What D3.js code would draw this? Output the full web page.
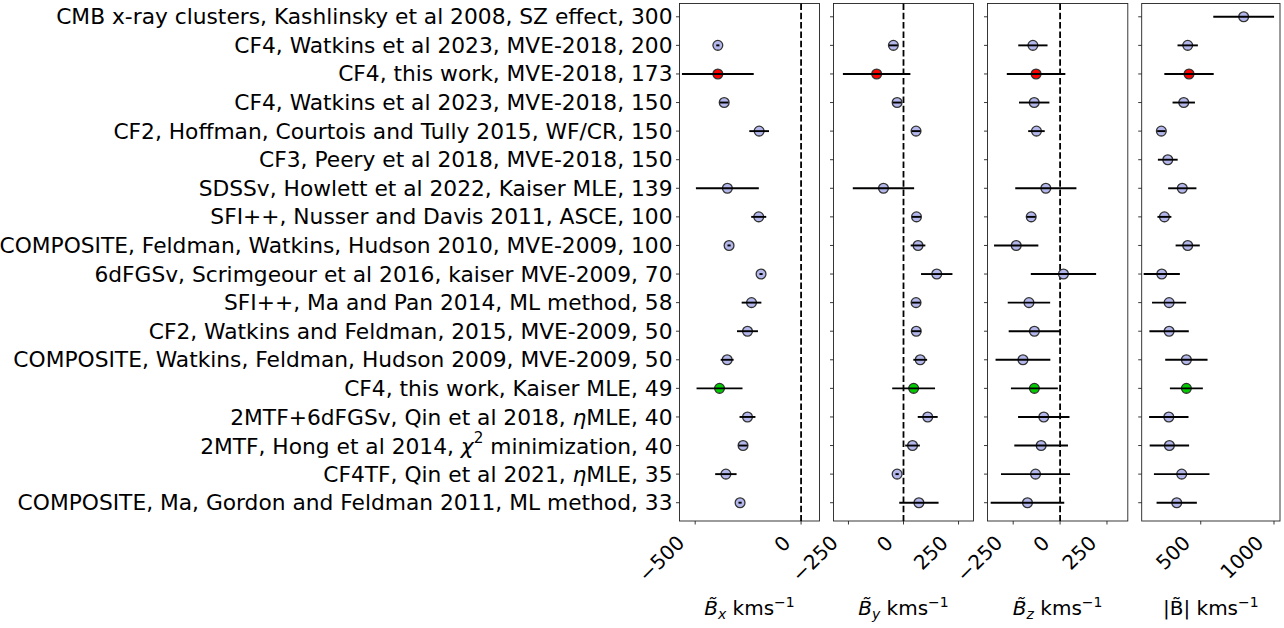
<!DOCTYPE html>
<html><head><meta charset="utf-8">
<script src="https://cdn.jsdelivr.net/npm/d3@7"></script>
<style>body{margin:0;background:#fff}svg{display:block}text{font-family:"DejaVu Sans",sans-serif}</style>
</head><body>
<svg id="chart" width="1284" height="628"></svg>
<script>
// ---- data ----
const labels = [
  "CMB x-ray clusters, Kashlinsky et al 2008, SZ effect, 300",
  "CF4, Watkins et al 2023, MVE-2018, 200",
  "CF4, this work, MVE-2018, 173",
  "CF4, Watkins et al 2023, MVE-2018, 150",
  "CF2, Hoffman, Courtois and Tully 2015, WF/CR, 150",
  "CF3, Peery et al 2018, MVE-2018, 150",
  "SDSSv, Howlett et al 2022, Kaiser MLE, 139",
  "SFI++, Nusser and Davis 2011, ASCE, 100",
  "COMPOSITE, Feldman, Watkins, Hudson 2010, MVE-2009, 100",
  "6dFGSv, Scrimgeour et al 2016, kaiser MVE-2009, 70",
  "SFI++, Ma and Pan 2014, ML method, 58",
  "CF2, Watkins and Feldman, 2015, MVE-2009, 50",
  "COMPOSITE, Watkins, Feldman, Hudson 2009, MVE-2009, 50",
  "CF4, this work, Kaiser MLE, 49",
  "2MTF+6dFGSv, Qin et al 2018, \u03b7MLE, 40",
  "2MTF, Hong et al 2014, \u03c7\u00b2 minimization, 40",
  "CF4TF, Qin et al 2021, \u03b7MLE, 35",
  "COMPOSITE, Ma, Gordon and Feldman 2011, ML method, 33"
];
const bx    = [null,-393,-393,-363,-198,null,-348,-200,-340,-189,-234,-253,-349,-385,-253,-274,-355,-288];
const bxErr = [null,3,165,16,42,null,144,31,3,3,42,45,26,104,33,17,46,3];
const by    = [null,-46,-122,-29,57,null,-91,59,66,151,57,58,76,46,110,41,-29,70];
const byErr = [null,16,149,16,16,null,135,16,29,67,16,17,27,93,41,29,3,85];
const bz    = [null,-145,-128,-138,-126,null,-76,-154,-234,18,-166,-137,-198,-137,-87,-101,-131,-174];
const bzErr = [null,73,151,76,39,null,158,19,113,169,108,132,141,120,132,138,179,191];
const bmag    = [793,411,420,384,231,275,374,252,411,234,284,284,402,402,282,286,370,336];
const bmagErr = [201,63,162,70,22,61,90,41,76,117,110,128,138,106,128,128,183,131];
const highlight = {2:"#ff0000", 13:"#00cc00"};
const ticksBx = [-500,0], ticksBy = [-250,0,250], ticksBz = [-250,0,250], ticksB = [500,1000];

// ---- layout ----
const svg = d3.select("#chart");
const pTop = 3.5, pBottom = 521;
const y = d3.scaleLinear().domain([-0.465, 17.64]).range([pTop, pBottom]);
const panels = [
  {vals:bx, errs:bxErr, dom:[-574,87], rng:[679.5,819.5], ticks:ticksBx, zero:true, label:"x"},
  {vals:by, errs:byErr, dom:[-318,318], rng:[833.5,973.5], ticks:ticksBy, zero:true, label:"y"},
  {vals:bz, errs:bzErr, dom:[-387,361], rng:[987.5,1127.8], ticks:ticksBz, zero:true, label:"z"},
  {vals:bmag, errs:bmagErr, dom:[97,1041], rng:[1141.7,1280], ticks:ticksB, zero:false, label:null}
];
const fmt = d => (d<0 ? "\u2212"+Math.abs(d) : ""+d);
const FS = 20, LFS = 21.75;

panels.forEach((p,pi) => {
  const x = d3.scaleLinear().domain(p.dom).range(p.rng);
  const g = svg.append("g");
  g.append("rect").attr("x",p.rng[0]).attr("y",pTop).attr("width",p.rng[1]-p.rng[0]).attr("height",pBottom-pTop)
    .attr("fill","none").attr("stroke","#222").attr("stroke-width",0.9);
  g.selectAll("line.yt").data(labels).join("line").attr("class","yt")
    .attr("x1",p.rng[0]-3.5).attr("x2",p.rng[0]).attr("y1",(d,i)=>y(i)).attr("y2",(d,i)=>y(i))
    .attr("stroke","#222").attr("stroke-width",0.9);
  g.selectAll("line.xt").data(p.ticks).join("line").attr("class","xt")
    .attr("x1",d=>x(d)).attr("x2",d=>x(d)).attr("y1",pBottom).attr("y2",pBottom+3.5)
    .attr("stroke","#222").attr("stroke-width",0.9);
  const H = 1.164*FS;
  g.selectAll("text.xtl").data(p.ticks).join("text").attr("class","xtl")
    .attr("transform",d=>`translate(${x(d)-6},${pBottom+10+0.707*H}) rotate(-45)`)
    .attr("text-anchor","end").attr("dy","-0.236em").attr("font-size",FS).attr("fill","#000")
    .text(fmt);
  if (p.zero) {
    g.append("line").attr("x1",x(0)).attr("x2",x(0)).attr("y1",pTop).attr("y2",pBottom)
      .attr("stroke","#000").attr("stroke-width",1.8).attr("stroke-dasharray","6.5,2.8");
  }
  const pts = p.vals.map((v,i)=>({v, e:p.errs[i], i})).filter(d=>d.v!==null);
  g.selectAll("circle").data(pts).join("circle")
    .attr("cx",d=>x(d.v)).attr("cy",d=>y(d.i)).attr("r",4.9)
    .attr("fill",d=>highlight[d.i]||"#b3b7ec").attr("stroke","#333").attr("stroke-width",1.3);
  g.selectAll("line.err").data(pts).join("line").attr("class","err")
    .attr("x1",d=>x(d.v-d.e)).attr("x2",d=>x(d.v+d.e)).attr("y1",d=>y(d.i)).attr("y2",d=>y(d.i))
    .attr("stroke","#000").attr("stroke-width",1.9).attr("stroke-linecap","square");
  const cx = (p.rng[0]+p.rng[1])/2;
  const t = svg.append("text").attr("x",cx).attr("y",615).attr("text-anchor","middle").attr("font-size",FS);
  if (p.label) {
    t.append("tspan").attr("font-style","italic").text("B\u0303");
    t.append("tspan").attr("font-style","italic").attr("font-size",FS*0.7).attr("dy",4).text(p.label);
    t.append("tspan").attr("dy",-4).text(" kms");
  } else {
    t.append("tspan").text("|B\u0303| kms");
  }
  t.append("tspan").attr("font-size",FS*0.7).attr("dy",-8).text("\u22121");
});

const lab = svg.append("g");
labels.forEach((s,i) => {
  const t = lab.append("text").attr("x",672.5).attr("y",y(i)).attr("text-anchor","end")
    .attr("dominant-baseline","central").attr("font-size",LFS).attr("fill","#000");
  const m = s.match(/^(.*?)([\u03b7\u03c7])(\u00b2?)(.*)$/);
  if (m) {
    t.append("tspan").text(m[1]);
    t.append("tspan").attr("font-style","italic").text(m[2]);
    if (m[3]) { t.append("tspan").attr("font-size",LFS*0.7).attr("dy",-8).text("2"); t.append("tspan").attr("dy",8).text(m[4]); }
    else t.append("tspan").text(m[4]);
  } else t.text(s);
});
</script>
</body></html>
